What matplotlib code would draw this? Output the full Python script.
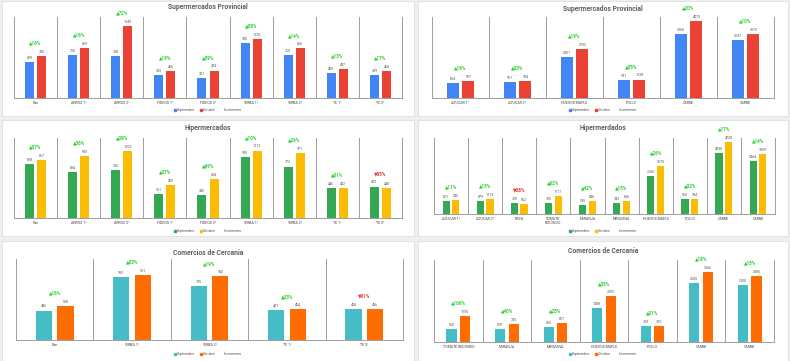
import numpy as np
import matplotlib
matplotlib.use("Agg")
import matplotlib.pyplot as plt
from matplotlib.lines import Line2D
from matplotlib.patches import Rectangle

plt.rcParams["font.family"] = ["Roboto", "DejaVu Sans"]

W, H = 790, 361

# --- Supermercados Provincial (left) ---
SPL_CATS = ["Pan", "ARROZ 1°", "ARROZ 2°", "FIDEOS 1°", "FIDEOS 2°",
            "YERBA 1°", "YERBA 2°", "TE 1°", "TE 2°"]
SPL_SEP = [629, 750, 728, 393, 341, 943, 750, 439, 399]
SPL_OCT = [730, 869, 1249, 466, 474, 1020, 856, 497, 468]
SPL_PCT = ["▲16%", "▲16%", "▲72%", "▲19%", "▲39%", "▲08%", "▲14%", "▲13%", "▲17%"]

# --- Supermercados Provincial (right) ---
SPR_CATS = ["AZUCAR 1°", "AZUCAR 2°", "HUEVOS MAPLE", "POLLO", "CARNE", "CARNE"]
SPR_SEP = [814, 911, 2301, 981, 3560, 3237]
SPR_OCT = [957, 934, 2732, 1028, 4275, 3575]
SPR_PCT = ["▲18%", "▲03%", "▲19%", "▲05%", "▲20%", "▲10%"]

# --- Hipermercados (left) ---
HPL_CATS = SPL_CATS
HPL_SEP = [808, 684, 726, 361, 345, 920, 772, 446, 472]
HPL_OCT = [867, 933, 1002, 493, 584, 1012, 971, 452, 448]
HPL_PCT = ["▲07%", "▲36%", "▲38%", "▲37%", "▲69%", "▲10%", "▲26%", "▲01%", "▼05%"]

# --- Hipermerdados (right) ---
HPR_CATS = ["AZUCAR 1°", "AZUCAR 2°", "PAPA", "TOMATE\nREDONDO", "NARANJA",
            "MANZANA", "HUEVOS MAPLE", "POLLO", "CARNE", "CARNE"]
HPR_SEP = [851, 879, 720, 725, 595, 743, 2526, 965, 4030, 3464]
HPR_OCT = [945, 1013, 662, 1177, 846, 856, 3175, 984, 4728, 3959]
HPR_PCT = ["▲11%", "▲15%", "▼08%", "▲62%", "▲42%", "▲15%", "▲26%", "▲02%", "▲17%", "▲14%"]

# --- Comercios de Cercanía (left) ---
CCL_CATS = ["Pan", "YERBA 1°", "YERBA 2°", "TE 1°", "TE 2°"]
CCL_SEP = [436, 933, 795, 441, 458]
CCL_OCT = [508, 961, 943, 454, 456]
CCL_PCT = ["▲16%", "▲03%", "▲19%", "▲03%", "▼01%"]

# --- Comercios de Cercanía (right) ---
CCR_CATS = ["TOMATE REDONDO", "NARANJA", "MANZANA", "HUEVOS MAPLE", "POLLO", "CARNE", "CARNE"]
CCR_SEP = [560, 559, 653, 1488, 700, 2600, 2500]
CCR_OCT = [1155, 783, 817, 2005, 705, 3066, 2885]
CCR_PCT = ["▲106%", "▲40%", "▲25%", "▲35%", "▲01%", "▲18%", "▲15%"]

SUPER = ("#4285F4", "#EA4335")
HIPER = ("#34A853", "#FBBC04")
CERCA = ("#46BDC6", "#FF6D01")
UP, DOWN = "#2fcf2f", "#e53935"
GRID = "#9e9e9e"


def fr(x0, y0, x1, y1):
    # pixel box (top-left origin) -> figure fraction rect
    return [x0 / W, 1 - y1 / H, (x1 - x0) / W, (y1 - y0) / H]


def panel(fig, card, plot, title, title_y, legend_y, cats, sep, octv, pct, colors, ymax):
    fig.patches.append(Rectangle((card[0] / W, 1 - card[3] / H),
                                 (card[2] - card[0]) / W, (card[3] - card[1]) / H,
                                 transform=fig.transFigure, facecolor="white",
                                 edgecolor="#dedede", lw=0.6, zorder=-5))
    ax = fig.add_axes(fr(*plot))
    ax.patch.set_alpha(0)
    n = len(cats)
    x = np.arange(n) + 0.5
    ax.bar(x - 0.14, sep, 0.21, color=colors[0], zorder=2)
    ax.bar(x + 0.14, octv, 0.21, color=colors[1], zorder=2)
    for xs, vals in ((x - 0.14, sep), (x + 0.14, octv)):
        for xi, v in zip(xs, vals):
            ax.annotate(str(v), (xi, v), xytext=(0, 1.5), textcoords="offset points",
                        ha="center", va="bottom", fontsize=2.6, color="#555555")
    for xi, a, b, p in zip(x, sep, octv, pct):
        ax.annotate(p, (xi, max(a, b)), xytext=(0, 7.5), textcoords="offset points",
                    ha="center", va="bottom", fontsize=3.3, fontweight="bold",
                    color=UP if p.startswith("▲") else DOWN)
    for xi, c in zip(x, cats):
        ax.annotate(c, (xi, 0), xytext=(0, -2), textcoords="offset points",
                    ha="center", va="top", fontsize=2.6, color="#444444",
                    linespacing=1.0)
    for i in range(n + 1):
        ax.axvline(i, color=GRID, lw=0.7, clip_on=False, zorder=1)
    ax.axhline(0, color=GRID, lw=0.7, clip_on=False, zorder=3)
    ax.set_xlim(0, n)
    ax.set_ylim(0, ymax)
    ax.axis("off")

    cx = (card[0] + card[2]) / 2
    fig.text(cx / W, 1 - title_y / H, title, ha="center", va="center",
             fontsize=4.9, fontweight="bold", color="#5f5f5f")
    handles = [Line2D([], [], ls="none", marker="s", ms=1.6, color=colors[0]),
               Line2D([], [], ls="none", marker="s", ms=1.6, color=colors[1]),
               Line2D([], [], ls="none", marker="none", color="white")]
    fig.legend(handles, ["Septiembre", "Octubre", "Incremento"], loc="center",
               bbox_to_anchor=(cx / W, 1 - legend_y / H), ncol=3, frameon=False,
               fontsize=2.6, handlelength=0.6, handletextpad=0.3, columnspacing=1.2,
               labelcolor="#555555")


fig = plt.figure(figsize=(W / 100, H / 100), dpi=100)
fig.patch.set_facecolor("#efefef")

panel(fig, (2, 1, 414, 116), (14, 17, 402, 98), "Supermercados Provincial", 7, 110,
      SPL_CATS, SPL_SEP, SPL_OCT, SPL_PCT, SUPER, 1400)
panel(fig, (418, 1, 788, 116), (432, 17, 774, 98), "Supermercados Provincial", 9, 110,
      SPR_CATS, SPR_SEP, SPR_OCT, SPR_PCT, SUPER, 4515)
panel(fig, (2, 120, 414, 236), (14, 138, 402, 218), "Hipermercados", 128, 231,
      HPL_CATS, HPL_SEP, HPL_OCT, HPL_PCT, HIPER, 1200)
panel(fig, (418, 120, 788, 236), (434, 138, 775, 214), "Hipermerdados", 128, 231,
      HPR_CATS, HPR_SEP, HPR_OCT, HPR_PCT, HIPER, 5000)
panel(fig, (2, 241, 414, 361), (16, 259, 403, 340), "Comercios de Cercanía", 253, 354,
      CCL_CATS, CCL_SEP, CCL_OCT, CCL_PCT, CERCA, 1200)
panel(fig, (418, 241, 788, 361), (434, 260, 774, 342), "Comercios de Cercanía", 251, 354,
      CCR_CATS, CCR_SEP, CCR_OCT, CCR_PCT, CERCA, 3600)

fig.savefig("out.png", dpi=100, facecolor=fig.get_facecolor())
